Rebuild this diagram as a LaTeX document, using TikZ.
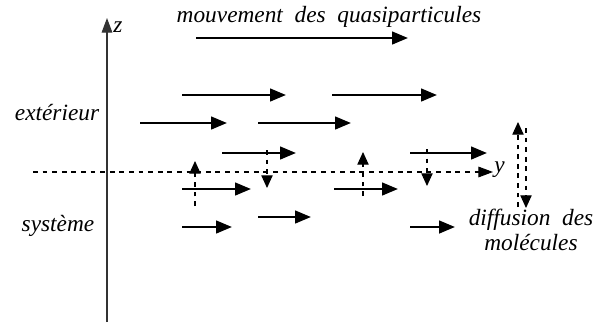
\documentclass[tikz,border=0pt]{standalone}
\usepackage{fontspec}
\setmainfont{Liberation Serif}
\usetikzlibrary{arrows.meta}
\begin{document}
\begin{tikzpicture}[x=0.75pt,y=-0.75pt,
  flow/.style={line width=1.9pt,-{Triangle[length=12pt,width=9.5pt]}},
  dashline/.style={line width=0.8pt,dash pattern=on 3.6pt off 3.6pt},
  hop/.style={dashline,-{Triangle[length=9.5pt,width=8.5pt]}},
  axisline/.style={line width=0.9pt,draw=black!80},
  lbl/.style={font=\fontsize{17.5}{19}\selectfont\itshape,inner sep=0pt}]
\useasboundingbox (0,0) rectangle (600,322);

% axes
\coordinate (zbot) at (107,322);
\coordinate (ztop) at (107,18);
\draw[axisline,-{Triangle[length=11pt,width=8pt]}] (zbot) -- (ztop);
\node[lbl,anchor=west] (zl) at (113,27) {z};
\coordinate (yl0) at (33,172);
\coordinate (yl1) at (493,172);
\draw[dashline,-{Triangle[length=11pt,width=8pt]}] (yl0) -- (yl1);
\node[lbl,anchor=west] (yl) at (494,170) {y};

% labels
\node[lbl] (title) at (329,17) {mouvement\ \ des\ \ quasiparticules};
\node[lbl] (ext) at (57,113) {extérieur};
\node[lbl] (sys) at (58,226) {système};
\node[lbl,align=center] (diff) at (531,230) {diffusion\ \ des\\molécules};

% quasiparticle motion
\coordinate (t0) at (196,38); \coordinate (t1) at (408,38);
\draw[flow] (t0) -- (t1);
\coordinate (a0) at (182,95);  \coordinate (a1) at (286,95);
\coordinate (b0) at (332,95);  \coordinate (b1) at (437,95);
\coordinate (c0) at (140,123); \coordinate (c1) at (227,123);
\coordinate (d0) at (258,123); \coordinate (d1) at (351,123);
\coordinate (e0) at (222,153); \coordinate (e1) at (296,153);
\coordinate (f0) at (410,153); \coordinate (f1) at (487,153);
\coordinate (g0) at (182,189); \coordinate (g1) at (251,189);
\coordinate (h0) at (334,189); \coordinate (h1) at (398,189);
\coordinate (i0) at (258,217); \coordinate (i1) at (311,217);
\coordinate (j0) at (182,227); \coordinate (j1) at (232,227);
\coordinate (k0) at (410,227); \coordinate (k1) at (455,227);
\foreach \p in {a,b,c,d,e,f,g,h,i,j,k}
  \draw[flow] (\p0) -- (\p1);

% molecular diffusion across the interface
\coordinate (m0) at (195,206); \coordinate (m1) at (195,161);
\coordinate (n0) at (267,150); \coordinate (n1) at (267,188);
\coordinate (o0) at (363,196); \coordinate (o1) at (363,152);
\coordinate (p0) at (427,149); \coordinate (p1) at (427,186);
\coordinate (q0) at (518,207); \coordinate (q1) at (518,122);
\coordinate (r0) at (526,128); \coordinate (r1) at (526,208);
\foreach \p in {m,n,o,p,q,r}
  \draw[hop] (\p0) -- (\p1);
\end{tikzpicture}
\end{document}
